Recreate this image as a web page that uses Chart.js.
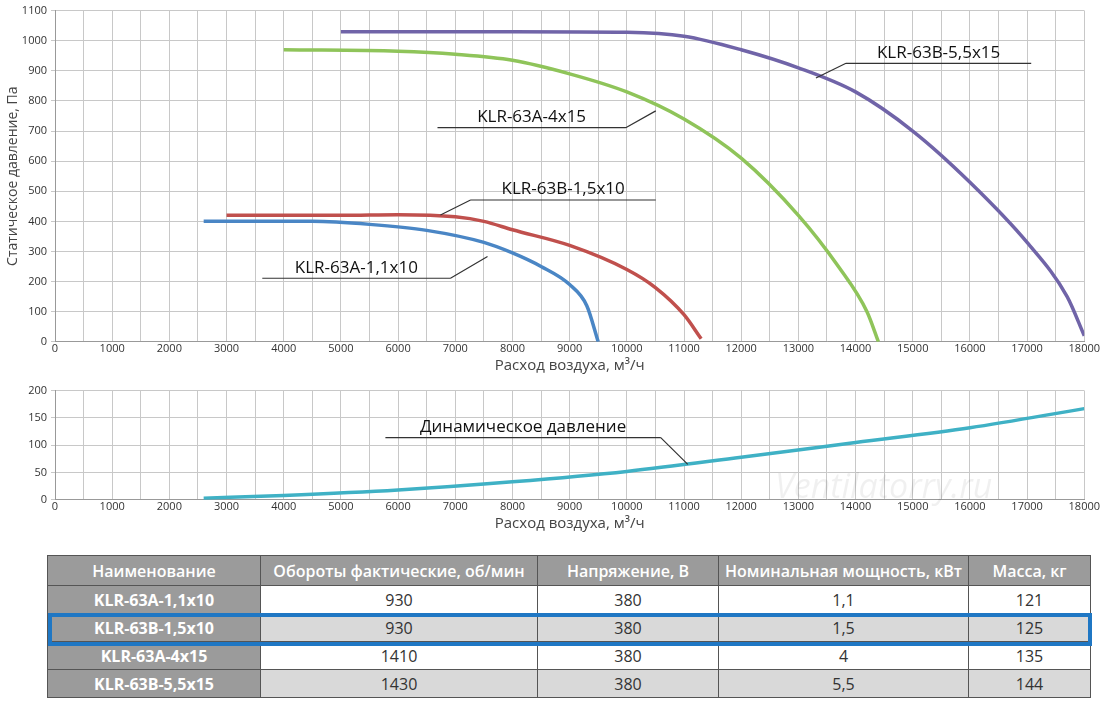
<!DOCTYPE html>
<html><head><meta charset="utf-8">
<script src="https://cdn.jsdelivr.net/npm/chart.js@4"></script>
<style>
body{margin:0;background:#fff;font-family:"Open Sans",sans-serif;width:1100px;height:707px;overflow:hidden;position:relative}
#top{position:absolute;left:0;top:0}
#bot{position:absolute;left:0;top:380px}
#wm{position:absolute;left:775px;top:462px;font-size:34px;color:rgba(0,0,0,0.06);font-style:italic}
table{position:absolute;left:47px;top:555px;border-collapse:collapse;font-size:16px;color:#333}
td,th{border:1.5px solid #555;text-align:center;height:27px;padding:0}
th{background:#9b9b9b;color:#fff;font-weight:600;height:29px}
td.n{background:#9b9b9b;color:#fff;font-weight:700}
tr.g td{background:#d9d9d9}
tr.g td.n{background:#9b9b9b}
#hl{position:absolute;left:48px;top:613px;width:1036px;height:25px;border:4px solid #1f77c4;pointer-events:none}
</style></head><body>
<canvas id="top" width="1100" height="377"></canvas>
<canvas id="bot" width="1100" height="155"></canvas>
<div id="wm">Ventilatorry.ru</div>
<table>
<tr><th style="width:212px">Наименование</th><th style="width:276px">Обороты фактические, об/мин</th><th style="width:180px">Напряжение, В</th><th style="width:249px">Номинальная мощность, кВт</th><th style="width:121px">Масса, кг</th></tr>
</table>
<div id="hl"></div>
<script>
// table data
const models = ['KLR-63A-1,1x10', 'KLR-63B-1,5x10', 'KLR-63A-4x15', 'KLR-63B-5,5x15'];
const rpm    = [930, 930, 1410, 1430];
const volts  = [380, 380, 380, 380];
const power  = ['1,1', '1,5', '4', '5,5'];
const mass   = [121, 125, 135, 144];

// curves: [flow m3/h, pressure Pa]
const curveA11 = [[2600,400],[4500,400],[5500,390],[6500,370],[7500,330],[8000,295],[8500,250],[9000,190],[9300,120],[9500,0]];
const curveB15 = [[3000,420],[5000,420],[6000,422],[7000,415],[7500,400],[8000,372],[9000,320],[10000,240],[10500,180],[11000,90],[11300,10]];
const curveA4  = [[4000,970],[6000,965],[7000,955],[8000,935],[9000,890],[10000,830],[11000,740],[12000,610],[13000,420],[13700,250],[14200,100],[14400,0]];
const curveB55 = [[5000,1030],[8000,1030],[10000,1028],[11000,1015],[12000,970],[13000,910],[14000,830],[15000,700],[16000,530],[17000,330],[17700,150],[18000,20]];
const dynamic  = [[2600,3],[4000,8],[6000,18],[8000,33],[10000,52],[12000,78],[14000,105],[16000,132],[18000,167]];

const tbl = document.querySelector('table');
models.forEach((m, i) => {
  const tr = document.createElement('tr');
  if (i % 2) tr.className = 'g';
  tr.innerHTML = `<td class="n">${m}</td><td>${rpm[i]}</td><td>${volts[i]}</td><td>${power[i]}</td><td>${mass[i]}</td>`;
  tbl.appendChild(tr);
});

const pts = arr => arr.map(([x, y]) => ({ x, y }));
const ds = (data, color) => ({ data: pts(data), borderColor: color, borderWidth: 3.5, pointRadius: 0, cubicInterpolationMode: 'monotone' });

// leader labels in data coords: text, line x1..x2 at y, curve point
const callouts = {
  top: [
    { t: 'KLR-63B-5,5x15', x1: 13833, x2: 17072, y: 925, px: 13307, py: 876, from: 'x1' },
    { t: 'KLR-63A-4x15',   x1: 6689,  x2: 9981,  y: 711, px: 10506, py: 767, from: 'x2' },
    { t: 'KLR-63B-1,5x10', x1: 7267,  x2: 10506, y: 471, px: 6741,  py: 421, from: 'x1' },
    { t: 'KLR-63A-1,1x10', x1: 3625,  x2: 6916,  y: 211, px: 7564,  py: 283, from: 'x2' },
  ],
  bot: [
    { t: 'Динамическое давление', x1: 5778, x2: 10593, y: 114, px: 11066, py: 65, from: 'x2' },
  ],
};

const calloutPlugin = {
  id: 'callouts',
  afterDatasetsDraw(chart, args, opts) {
    const { ctx, scales: { x, y } } = chart;
    ctx.save();
    ctx.strokeStyle = '#333'; ctx.lineWidth = 1.2;
    ctx.fillStyle = '#111'; ctx.font = '17px "Open Sans"';
    ctx.textAlign = 'center'; ctx.textBaseline = 'bottom';
    opts.items.forEach(c => {
      const x1 = x.getPixelForValue(c.x1), x2 = x.getPixelForValue(c.x2), ly = y.getPixelForValue(c.y);
      const ax = c.from === 'x1' ? x1 : x2;
      ctx.beginPath();
      ctx.moveTo(x.getPixelForValue(c.px), y.getPixelForValue(c.py));
      ctx.lineTo(ax, ly);
      ctx.moveTo(x1, ly); ctx.lineTo(x2, ly);
      ctx.stroke();
      ctx.fillText(c.t, (x1 + x2) / 2, ly - 2);
    });
    ctx.restore();
  },
};

Chart.defaults.font.family = '"Open Sans", sans-serif';
Chart.defaults.color = '#333';

function makeChart(id, datasets, yMax, yStep, yTitle, items, pad) {
  return new Chart(document.getElementById(id), {
    type: 'line',
    data: { datasets },
    plugins: [calloutPlugin],
    options: {
      responsive: false, animation: false,
      layout: { padding: pad },
      plugins: { legend: { display: false }, tooltip: { enabled: false }, callouts: { items } },
      scales: {
        x: {
          type: 'linear', min: 0, max: 18000,
          ticks: { stepSize: 500, autoSkip: false, maxRotation: 0, font: { size: 11 }, padding: 0,
                   callback: v => v % 1000 === 0 ? String(v) : '' },
          grid: { color: '#c8c8c8', drawTicks: false },
          border: { color: '#999' },
          title: { display: true, text: 'Расход воздуха, м³/ч', font: { size: 15 }, color: '#444', padding: 2 },
        },
        y: {
          min: 0, max: yMax,
          ticks: { stepSize: yStep, font: { size: 11 }, padding: 4, callback: v => String(v) },
          grid: { color: '#c8c8c8', drawTicks: true, tickLength: 4 },
          border: { color: '#999' },
          title: { display: !!yTitle, text: yTitle, font: { size: 14 }, color: '#444', padding: 0 },
          afterFit: s => { s.width = 50; },
        },
      },
    },
  });
}

makeChart('top', [ds(curveA11, '#4a86c5'), ds(curveB15, '#c0504d'), ds(curveA4, '#8fc45a'), ds(curveB55, '#7064a8')],
  1100, 100, 'Статическое давление, Па', callouts.top, { left: 5, right: 14, top: 7, bottom: 0 });
makeChart('bot', [ds(dynamic, '#3fb1c5')], 200, 50, '', callouts.bot, { left: 5, right: 14, top: 10, bottom: 0 });
</script>
</body></html>
